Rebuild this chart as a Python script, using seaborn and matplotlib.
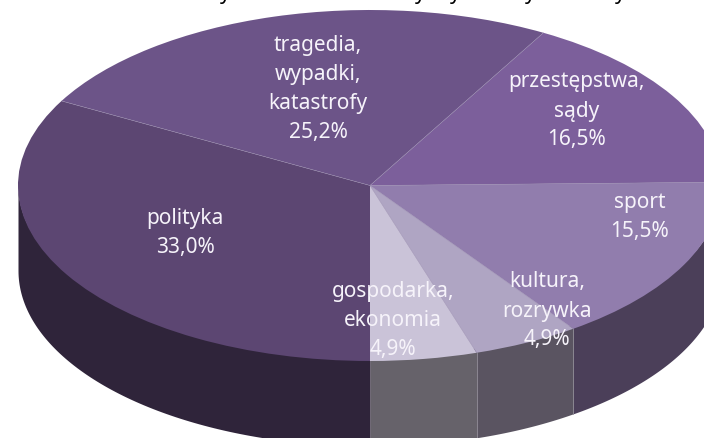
import numpy as np
import matplotlib.pyplot as plt
import seaborn as sns

# =========================================================
# DATA
# =========================================================

labels = ["gospodarka,\nekonomia", "kultura,\nrozrywka", "sport",
          "przestępstwa,\nsądy", "tragedia,\nwypadki,\nkatastrofy", "polityka"]
values = [4.9, 4.9, 15.5, 16.5, 25.2, 33.0]

top_colors = ["#CAC3D8", "#AFA5C3", "#917DAD", "#7C5F9B", "#6C5488", "#5C4672"]
side_colors = ["#66626A", "#5A5461", "#4B3F59", "#43345A", "#3A2E48", "#2F243A"]

# label centres in picture pixels
label_px = [(393, 320), (547, 311), (640, 217), (577, 111), (318, 89), (185, 233)]
# the title is cut off by the top edge, only tails of its y letters show
title_tail_px = [225, 420, 455, 530, 620]

# =========================================================
# LAYOUT
# =========================================================

W, H = 704, 438
CX, CY = 370, 185.5
RX, RY = 352, 175.5
DEPTH = 85 / RY
START = -90

sns.set_theme(style="white")
plt.rcParams['font.family'] = ['Noto Sans', 'DejaVu Sans']


def px(x, y):
    return (x - CX) / RX, (CY - y) / RY


fig = plt.figure(figsize=(W / 100, H / 100), dpi=100)
ax = fig.add_axes([0, 0, 1, 1])

# =========================================================
# SIDE WALL
# =========================================================

edges = START + np.cumsum([0] + values) * 3.6

for i in range(len(values)):
    a0, a1 = edges[i], edges[i + 1]
    # only the front half of the wall can be seen
    parts = [(max(a0, -180), min(a1, 0)), (max(a0, 180), min(a1, 360))]
    for lo, hi in parts:
        if hi <= lo:
            continue
        t = np.radians(np.linspace(lo, hi, 100))
        # start a bit under the top face so no white seam shows along the arc
        ax.fill_between(np.cos(t), np.sin(t) * 0.97, np.sin(t) - DEPTH,
                        color=side_colors[i], lw=0, zorder=1)

for a in edges[1:3]:
    x = np.cos(np.radians(a))
    y = np.sin(np.radians(a))
    ax.plot([x, x], [y, y - DEPTH], color="#8F8B96", lw=0.6, zorder=2)

# =========================================================
# TOP FACE
# =========================================================

wedges, _ = ax.pie(values, colors=sns.color_palette(top_colors), startangle=START,
                   counterclock=True, radius=1, frame=True,
                   wedgeprops=dict(lw=0))
for w in wedges:
    w.set_zorder(3)

for a in edges[1:-1]:
    t = np.radians(a)
    ax.plot([0, np.cos(t)], [0, np.sin(t)], color="#9A8DB0", lw=0.35, zorder=4)

ax.set_aspect('auto')
ax.set_xlim((0 - CX) / RX, (W - CX) / RX)
ax.set_ylim((CY - H) / RY, CY / RY)
ax.axis('off')

# =========================================================
# TEXT
# =========================================================

for name, value, (lx, ly) in zip(labels, values, label_px):
    text = name + "\n" + f"{value:.1f}%".replace(".", ",")
    x, y = px(lx, ly)
    ax.text(x, y, text, color="#F6F3FA", fontsize=15, ha='center', va='center',
            linespacing=1.5, zorder=5)

for tx in title_tail_px:
    x, y = px(tx, -1)
    ax.text(x, y, "y", color="black", fontsize=15, fontweight='bold', ha='center',
            va='baseline', clip_on=False, zorder=5)

fig.savefig("out.png", dpi=100)
